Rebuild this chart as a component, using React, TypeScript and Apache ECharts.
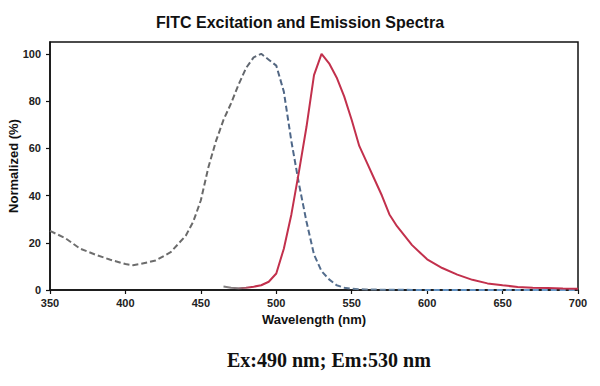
import React, { useEffect, useRef } from "react";
import * as echarts from "echarts";

const titleText = "FITC Excitation and Emission Spectra";
const xName = "Wavelength (nm)";
const yName = "Normalized (%)";
const noteText = "Ex:490 nm; Em:530 nm";

const exWl = [350, 360, 370, 380, 390, 400, 405, 410, 420, 430, 440, 445, 450, 455, 460, 465, 470, 475, 480, 485, 490, 495, 500, 505, 510, 515, 520, 525, 530, 535, 540, 545, 550, 560, 580, 600, 620, 640, 660, 680, 700];
const exVal = [25, 22, 17.5, 15, 12.8, 11, 10.5, 11, 12.5, 16, 23, 29, 38, 52, 63, 72, 79, 87, 94, 98.5, 100, 97.5, 95, 84, 63, 45, 29, 15, 8, 4.5, 2, 1, 0.5, 0.2, 0.1, 0, 0, 0, 0, 0, 0];

const emWl = [465, 470, 475, 480, 485, 490, 495, 500, 505, 510, 515, 520, 525, 530, 535, 540, 545, 550, 555, 560, 565, 570, 575, 580, 585, 590, 595, 600, 610, 620, 630, 640, 650, 660, 670, 680, 690, 700];
const emVal = [1.5, 1, 0.7, 1, 1.4, 2, 3.5, 7, 17.5, 32, 50, 69, 91, 100, 96, 90, 82, 72, 61, 54, 47, 40, 32, 27, 23, 19, 16, 13, 9.3, 6.5, 4.3, 2.8, 2, 1.3, 1, 0.8, 0.6, 0.5];

const sansFont = "Arial, 'Liberation Sans', sans-serif";

export default function App() {
  const ref = useRef<HTMLDivElement>(null);
  useEffect(() => {
    if (!ref.current) return;
    const chart = echarts.init(ref.current, undefined, { renderer: "svg" });
    chart.setOption({
      animation: false,
      backgroundColor: "#ffffff",
      title: {
        text: titleText,
        left: "center",
        top: 9,
        textStyle: { fontFamily: sansFont, fontSize: 16, fontWeight: "bold", color: "#111" },
      },
      grid: {
        left: 50,
        right: 22,
        top: 42,
        bottom: 96,
        containLabel: false,
        outerBoundsMode: "none",
        show: true,
        borderColor: "#111",
        borderWidth: 1.5,
        backgroundColor: "transparent",
      },
      xAxis: {
        type: "value",
        min: 350,
        max: 700,
        interval: 50,
        name: xName,
        nameLocation: "middle",
        nameGap: 22,
        nameTextStyle: { fontFamily: sansFont, fontSize: 13, fontWeight: "bold", color: "#111" },
        axisLine: { show: true, lineStyle: { color: "#111", width: 1.5 } },
        axisTick: { show: true, inside: false, length: 4, lineStyle: { color: "#111", width: 1.2 } },
        axisLabel: { fontFamily: sansFont, fontSize: 11, fontWeight: "bold", color: "#222", margin: 7 },
        splitLine: { show: false },
      },
      yAxis: {
        type: "value",
        min: 0,
        max: 105,
        interval: 20,
        axisLine: { show: true, lineStyle: { color: "#111", width: 1.5 } },
        axisTick: { show: true, inside: false, length: 4, lineStyle: { color: "#111", width: 1.2 } },
        axisLabel: { fontFamily: sansFont, fontSize: 11, fontWeight: "bold", color: "#222", margin: 9, showMaxLabel: false },
        splitLine: { show: false },
      },
      graphic: [
        {
          type: "text",
          x: 13,
          y: 166,
          rotation: Math.PI / 2,
          style: {
            text: yName,
            font: "bold 13px Arial, 'Liberation Sans', sans-serif",
            fill: "#111",
            textAlign: "center",
            textVerticalAlign: "middle",
          },
        },
        {
          type: "text",
          left: 227,
          top: 350,
          style: {
            text: noteText,
            font: "bold 20px 'Liberation Serif', 'Times New Roman', serif",
            fill: "#111",
          },
        },
      ],
      series: [
        {
          type: "line",
          name: "Excitation",
          data: exWl.map((w, i) => [w, exVal[i]]),
          showSymbol: false,
          symbol: "none",
          smooth: false,
          lineStyle: {
            width: 2,
            type: [6, 3],
            color: new echarts.graphic.LinearGradient(0, 0, 1, 0, [
              { offset: 0, color: "#707070" },
              { offset: 0.35, color: "#686868" },
              { offset: 0.45, color: "#4d6688" },
              { offset: 0.55, color: "#56708f" },
              { offset: 0.6, color: "#6a7f95" },
              { offset: 0.7, color: "#5f8fc0" },
              { offset: 1, color: "#6fa0d0" },
            ]),
          },
          z: 2,
        },
        {
          type: "line",
          name: "Emission",
          data: emWl.map((w, i) => [w, emVal[i]]),
          showSymbol: false,
          symbol: "none",
          smooth: false,
          lineStyle: {
            width: 2,
            color: new echarts.graphic.LinearGradient(0, 0, 1, 0, [
              { offset: 0, color: "#808080" },
              { offset: 0.04, color: "#8a7a7e" },
              { offset: 0.08, color: "#c2304c" },
              { offset: 1, color: "#c2304c" },
            ]),
          },
          z: 3,
        },
      ],
    });
    return () => chart.dispose();
  }, []);
  return <div ref={ref} style={{ width: 600, height: 386, margin: -8 }} />;
}
